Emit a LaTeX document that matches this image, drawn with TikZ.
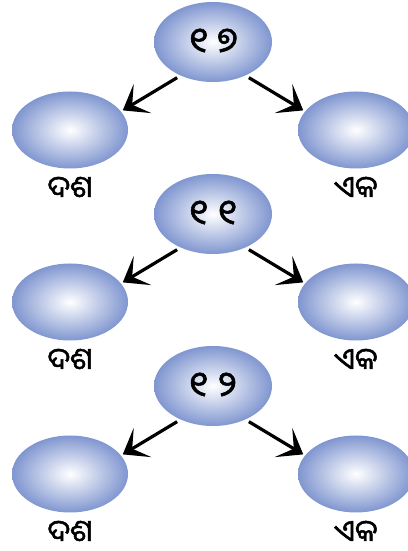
\documentclass[tikz,border=0pt]{standalone}
\usepackage{fontspec}
\newfontfamily\oriya[Script=Oriya,FakeBold=1.6]{Noto Sans Oriya UI}
\usetikzlibrary{arrows.meta,positioning,shapes.geometric}

\definecolor{bubble}{RGB}{128,150,208}

\tikzset{
  arr/.style={line width=3.2pt,
    arrows={-Stealth[length=23pt,width=34pt,inset=12pt]},
    shorten <=4pt,shorten >=2pt},
}

\begin{document}
\begin{tikzpicture}[x=1pt,y=1pt,
  num/.style={ellipse,minimum width=118,minimum height=80,inner sep=0pt,
    shading=radial,inner color=white,outer color=bubble},
  part/.style={ellipse,minimum width=116,minimum height=77,inner sep=0pt,
    shading=radial,inner color=white,outer color=bubble},
  digits/.style={font=\oriya\fontsize{35}{38}\selectfont},
  lbl/.style={font=\oriya\fontsize{30}{32}\selectfont,inner sep=0pt},
]
\useasboundingbox (0,0) rectangle (407,551);

\def\midx{213}
\def\lx{70}
\def\rx{356}
\def\topy{509}
\def\sidey{421}
\def\rowsep{172}

% ------------------------------------------------------------------
% Row 1: 17
% ------------------------------------------------------------------
\begin{scope}
  \node[num,digits] (top1) at (\midx,\topy) {୧ ୭};
  \node[part] (tens1) at (\lx,\sidey) {};
  \node[part] (ones1) at (\rx,\sidey) {};
  \node[lbl,below=8pt of tens1] (tensLbl1) {ଦଶ};
  \node[lbl,below=8pt of ones1] (onesLbl1) {ଏକ};
  \draw[arr] (top1.226) -- (tens1.20);
  \draw[arr] (top1.314) -- (ones1.160);
\end{scope}

% ------------------------------------------------------------------
% Row 2: 11
% ------------------------------------------------------------------
\begin{scope}[yshift=-\rowsep]
  \node[num,digits] (top2) at (\midx,\topy) {୧ ୧};
  \node[part] (tens2) at (\lx,\sidey) {};
  \node[part] (ones2) at (\rx,\sidey) {};
  \node[lbl,below=8pt of tens2] (tensLbl2) {ଦଶ};
  \node[lbl,below=8pt of ones2] (onesLbl2) {ଏକ};
  \draw[arr] (top2.226) -- (tens2.20);
  \draw[arr] (top2.314) -- (ones2.160);
\end{scope}

% ------------------------------------------------------------------
% Row 3: 12
% ------------------------------------------------------------------
\begin{scope}[yshift=-2*\rowsep]
  \node[num,digits] (top3) at (\midx,\topy) {୧ ୨};
  \node[part] (tens3) at (\lx,\sidey) {};
  \node[part] (ones3) at (\rx,\sidey) {};
  \node[lbl,below=8pt of tens3] (tensLbl3) {ଦଶ};
  \node[lbl,below=8pt of ones3] (onesLbl3) {ଏକ};
  \draw[arr] (top3.226) -- (tens3.20);
  \draw[arr] (top3.314) -- (ones3.160);
\end{scope}

\end{tikzpicture}
\end{document}
